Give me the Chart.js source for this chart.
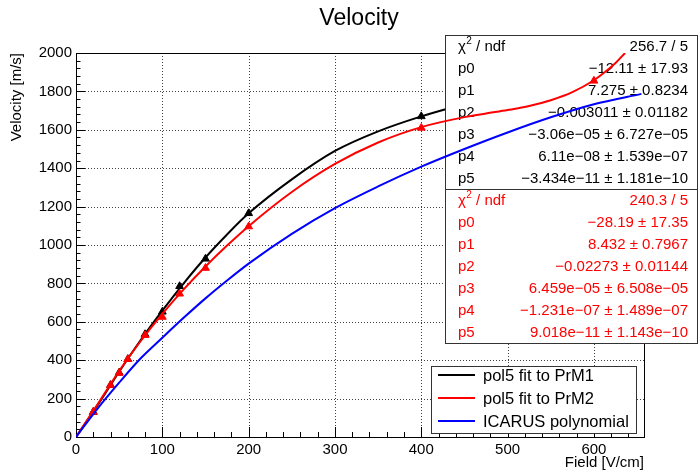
<!DOCTYPE html>
<html>
<head>
<meta charset="utf-8">
<script src="https://cdn.jsdelivr.net/npm/chart.js@4.4.1/dist/chart.umd.min.js"></script>
<style>
  html, body { margin: 0; padding: 0; background: #fff; }
  canvas { display: block; }
</style>
</head>
<body>
<canvas id="chart" width="698" height="472"></canvas>
<script>
// Données
const prm1Field = [0, 25, 50, 75, 100, 125, 150, 175, 200, 250, 300, 350, 400, 450];
const prm1Fit = [0, 165, 340, 505, 658, 802, 935, 1055, 1165, 1342, 1490, 1592, 1670, 1735];

const prm2Field = [0, 25, 50, 75, 100, 125, 150, 175, 200, 250, 300, 350, 400, 450, 475, 500, 525, 550, 575, 600, 612, 625, 636];
const prm2Fit = [0, 170, 344, 500, 641, 770, 888, 997, 1098, 1276, 1422, 1534, 1614, 1666, 1685, 1703, 1724, 1754, 1796, 1858, 1898, 1948, 2000];

const icarusField = [0, 25, 50, 75, 100, 125, 150, 175, 200, 250, 300, 350, 400, 450, 500, 550, 600, 655];
const icarusVel = [0, 148, 283, 410, 517, 622, 722, 815, 903, 1058, 1192, 1305, 1408, 1500, 1586, 1665, 1733, 1787];

const prm1PtField = [20, 40, 50, 60, 80, 100, 120, 150, 200, 400];
const prm1PtVel = [130, 270, 335, 405, 535, 652, 785, 928, 1165, 1670];
const prm2PtField = [20, 40, 50, 60, 80, 100, 120, 150, 200, 400, 600];
const prm2PtVel = [130, 270, 333, 405, 530, 625, 746, 880, 1096, 1610, 1855];

const xTicks = [0, 100, 200, 300, 400, 500, 600];
const yTicks = [0, 200, 400, 600, 800, 1000, 1200, 1400, 1600, 1800, 2000];

const prm1Chi2 = '256.7 / 5';
const prm1Params = ['−12.11 ± 17.93', '7.275 ± 0.8234', '−0.003011 ± 0.01182',
    '−3.06e−05 ± 6.727e−05', '6.11e−08 ± 1.539e−07', '−3.434e−11 ± 1.181e−10'];
const prm2Chi2 = '240.3 / 5';
const prm2Params = ['−28.19 ± 17.35', '8.432 ± 0.7967', '−0.02273 ± 0.01144',
    '6.459e−05 ± 6.508e−05', '−1.231e−07 ± 1.489e−07', '9.018e−11 ± 1.143e−10'];

const legendLabels = ['pol5 fit to PrM1', 'pol5 fit to PrM2', 'ICARUS polynomial'];
const legendColors = ['#000000', '#ff0000', '#0000ff'];

const FONT = '"Liberation Sans", Arial, Helvetica, sans-serif';

function pairs(xs, ys) {
    return xs.map((x, i) => ({ x: x, y: ys[i] }));
}

// Cadre, grille pointillée et graduations façon ROOT
const framePlugin = {
    id: 'frame',
    beforeDatasetsDraw(chart) {
        const { ctx, chartArea: a, scales } = chart;
        const xs = scales.x, ys = scales.y;
        ctx.save();
        ctx.strokeStyle = 'rgba(0,0,0,0.75)';
        ctx.lineWidth = 1;
        ctx.setLineDash([1, 2]);
        xTicks.forEach(v => {
            if (v <= 0) return;
            const px = Math.round(xs.getPixelForValue(v)) + 0.5;
            ctx.beginPath(); ctx.moveTo(px, a.top); ctx.lineTo(px, a.bottom); ctx.stroke();
        });
        yTicks.forEach(v => {
            if (v <= 0 || v >= 2000) return;
            const py = Math.round(ys.getPixelForValue(v)) + 0.5;
            ctx.beginPath(); ctx.moveTo(a.left, py); ctx.lineTo(a.right, py); ctx.stroke();
        });
        ctx.setLineDash([]);
        ctx.strokeStyle = '#000';
        ctx.lineWidth = 1;
        ctx.strokeRect(Math.round(a.left) + 0.5, Math.round(a.top) + 0.5,
            Math.round(a.right - a.left), Math.round(a.bottom - a.top));

        // graduations y
        for (let v = 0; v <= 2000; v += 40) {
            const py = Math.round(ys.getPixelForValue(v)) + 0.5;
            const len = v % 200 === 0 ? 9 : 4.5;
            ctx.beginPath(); ctx.moveTo(a.left, py); ctx.lineTo(a.left + len, py); ctx.stroke();
        }
        // graduations x
        for (let v = 0; v <= xs.max; v += 20) {
            const px = Math.round(xs.getPixelForValue(v)) + 0.5;
            const len = v % 100 === 0 ? 10 : 5;
            ctx.beginPath(); ctx.moveTo(px, a.bottom); ctx.lineTo(px, a.bottom - len); ctx.stroke();
        }
        ctx.restore();
    }
};

function drawChi2(ctx, x, y) {
    ctx.textAlign = 'left';
    ctx.font = '15px ' + FONT;
    ctx.fillText('χ', x, y);
    const w = ctx.measureText('χ').width;
    ctx.font = '10px ' + FONT;
    ctx.fillText('2', x + w + 0.5, y - 5);
    ctx.font = '15px ' + FONT;
    ctx.fillText(' / ndf', x + w + 6, y);
}

function drawStats(ctx, top, chi2, params, color) {
    const left = 445.5, right = 697.5, rowH = 22;
    ctx.fillStyle = '#fff';
    ctx.fillRect(left, top, right - left, rowH * 7);
    ctx.strokeStyle = '#333';
    ctx.lineWidth = 1;
    ctx.strokeRect(left, top, right - left, rowH * 7);
    ctx.fillStyle = color;
    ctx.textBaseline = 'middle';
    let y = top + 11;
    drawChi2(ctx, 458, y);
    ctx.textAlign = 'right';
    ctx.fillText(chi2, 688, y);
    params.forEach((p, i) => {
        y = top + 11 + rowH * (i + 1);
        ctx.textAlign = 'left';
        ctx.fillText('p' + i, 458, y);
        ctx.textAlign = 'right';
        ctx.fillText(p, 688, y);
    });
}

// Boîtes de stats : dessinées après la courbe PrM1, avant PrM2 et ICARUS
const statsPlugin = {
    id: 'stats',
    afterDatasetDraw(chart, args) {
        if (args.index !== 3) return;
        const ctx = chart.ctx;
        ctx.save();
        drawStats(ctx, 35.5, prm1Chi2, prm1Params, '#000');
        drawStats(ctx, 189.5, prm2Chi2, prm2Params, '#ff0000');
        ctx.restore();
    }
};

const decorPlugin = {
    id: 'decor',
    afterDraw(chart) {
        const { ctx, chartArea: a } = chart;
        ctx.save();
        ctx.fillStyle = '#000';
        ctx.textBaseline = 'middle';

        // titre
        ctx.font = '23px ' + FONT;
        ctx.textAlign = 'center';
        ctx.fillText('Velocity', 359, 19);

        // titres des axes
        ctx.font = '15px ' + FONT;
        ctx.textAlign = 'right';
        ctx.fillText('Field [V/cm]', a.right, 463);
        ctx.save();
        ctx.translate(17, a.top);
        ctx.rotate(-Math.PI / 2);
        ctx.textAlign = 'right';
        ctx.fillText('Velocity [m/s]', 0, 0);
        ctx.restore();

        // légende
        const lx = 431.5, ly = 366.5, lw = 205, lh = 67;
        ctx.fillStyle = '#fff';
        ctx.fillRect(lx, ly, lw, lh);
        ctx.strokeStyle = '#333';
        ctx.lineWidth = 1;
        ctx.strokeRect(lx, ly, lw, lh);
        ctx.font = '16.5px ' + FONT;
        ctx.textAlign = 'left';
        legendLabels.forEach((label, i) => {
            const y = 375 + i * 23;
            ctx.strokeStyle = legendColors[i];
            ctx.lineWidth = 2;
            ctx.beginPath(); ctx.moveTo(438, y); ctx.lineTo(475, y); ctx.stroke();
            ctx.fillStyle = '#000';
            ctx.fillText(label, 483, y + 1);
        });
        ctx.restore();
    }
};

const ctx = document.getElementById('chart').getContext('2d');
new Chart(ctx, {
    type: 'line',
    data: {
        datasets: [
            {
                label: 'ICARUS polynomial',
                data: pairs(icarusField, icarusVel),
                borderColor: '#0000ff',
                borderWidth: 2,
                pointRadius: 0,
                cubicInterpolationMode: 'monotone',
                order: 1
            },
            {
                label: 'PrM2',
                data: pairs(prm2PtField, prm2PtVel),
                showLine: false,
                pointStyle: 'triangle',
                pointRadius: 4.5,
                backgroundColor: '#ff0000',
                borderColor: '#ff0000',
                borderWidth: 1,
                order: 2
            },
            {
                label: 'pol5 fit to PrM2',
                data: pairs(prm2Field, prm2Fit),
                borderColor: '#ff0000',
                borderWidth: 2,
                pointRadius: 0,
                cubicInterpolationMode: 'monotone',
                order: 3
            },
            {
                label: 'PrM1',
                data: pairs(prm1PtField, prm1PtVel),
                showLine: false,
                pointStyle: 'triangle',
                pointRadius: 4.5,
                backgroundColor: '#000',
                borderColor: '#000',
                borderWidth: 1,
                order: 4
            },
            {
                label: 'pol5 fit to PrM1',
                data: pairs(prm1Field, prm1Fit),
                borderColor: '#000',
                borderWidth: 2,
                pointRadius: 0,
                cubicInterpolationMode: 'monotone',
                order: 5
            }
        ]
    },
    options: {
        responsive: false,
        animation: false,
        layout: { padding: { left: 0, top: 53, right: 54, bottom: 0 } },
        plugins: {
            legend: { display: false },
            tooltip: { enabled: false },
            title: { display: false }
        },
        scales: {
            x: {
                type: 'linear',
                min: 0,
                max: 658,
                grid: { display: false, drawTicks: false },
                border: { display: false },
                afterFit(scale) { scale.height = 35; },
                afterBuildTicks(scale) { scale.ticks = xTicks.map(v => ({ value: v })); },
                ticks: {
                    padding: 4,
                    color: '#000',
                    maxRotation: 0,
                    autoSkip: false,
                    font: { family: FONT, size: 15 },
                    callback: v => String(v)
                }
            },
            y: {
                type: 'linear',
                min: 0,
                max: 2000,
                grid: { display: false, drawTicks: false },
                border: { display: false },
                afterFit(scale) { scale.width = 76; },
                afterBuildTicks(scale) { scale.ticks = yTicks.map(v => ({ value: v })); },
                ticks: {
                    padding: 4,
                    color: '#000',
                    autoSkip: false,
                    font: { family: FONT, size: 15 },
                    callback: v => String(v)
                }
            }
        }
    },
    plugins: [framePlugin, statsPlugin, decorPlugin]
});
</script>
</body>
</html>
